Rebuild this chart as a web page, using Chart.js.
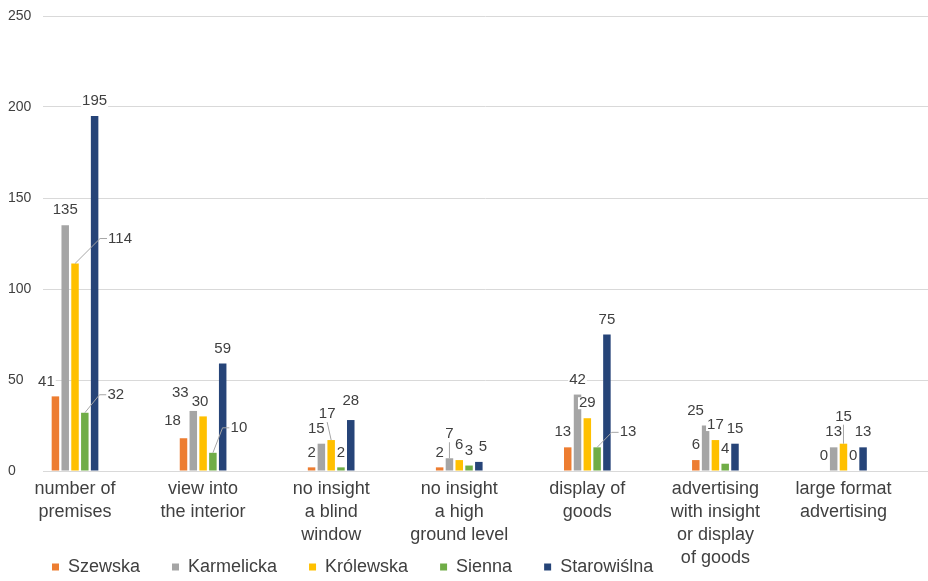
<!DOCTYPE html>
<html><head><meta charset="utf-8">
<script src="https://cdn.jsdelivr.net/npm/chart.js@4.4.1/dist/chart.umd.min.js"></script>
<style>html,body{margin:0;padding:0;background:#fff;} #wrap{width:928px;height:581px;position:relative;}</style>
</head><body><div id="wrap"><canvas id="c"></canvas></div>
<script>
// ---- data ----
const categories = [
  ["number of", "premises"],
  ["view into", "the interior"],
  ["no insight", "a blind", "window"],
  ["no insight", "a high", "ground level"],
  ["display of", "goods"],
  ["advertising", "with insight", "or display", "of goods"],
  ["large format", "advertising"]
];
const seriesNames = ["Szewska", "Karmelicka", "Królewska", "Sienna", "Starowiślna"];
const szewska     = [41, 18, 2, 2, 13, 6, 0];
const karmelicka  = [135, 33, 15, 7, 42, 25, 13];
const krolewska   = [114, 30, 17, 6, 29, 17, 15];
const sienna      = [32, 10, 2, 3, 13, 4, 0];
const starowislna = [195, 59, 28, 5, 75, 15, 13];
const yTicks = [0, 50, 100, 150, 200, 250];

// ---- styling ----
const colors = ["#ED7D31", "#A5A5A5", "#FFC000", "#70AD47", "#264478"];
const FONT = "'Liberation Sans', Arial, sans-serif";
const TEXT = "#404040";
// label nudges (series-category): [dx, dy, leader]
const labelNudges = {
  "0-0": [-9, 0], "2-0": [45, -10, "side"], "3-0": [31, -3, "side"],
  "0-1": [-11, -2], "1-1": [-13, -3], "2-1": [-3, 0], "3-1": [26, -10, "side"],
  "1-2": [-5, 0], "2-2": [-4, -11, "up"], "4-2": [0, -4],
  "1-3": [0, -9, "up"], "4-3": [4, 0],
  "0-4": [-5, 0], "3-4": [31, 0, "side"],
  "1-5": [-10, 0],
  "2-6": [0, -12, "up"]
};

const seriesValues = [szewska, karmelicka, krolewska, sienna, starowislna];
const datasets = seriesNames.map((name, s) => ({
  label: name,
  data: seriesValues[s].map((v, i) => ({ x: i, y: v })),
  backgroundColor: colors[s],
  borderWidth: 0,
  categoryPercentage: 0.3825,
  barPercentage: 0.765
}));

const valueLabels = {
  id: "valueLabels",
  afterDatasetsDraw(chart) {
    const ctx = chart.ctx;
    ctx.save();
    ctx.font = "15px " + FONT;
    ctx.textAlign = "center";
    ctx.textBaseline = "middle";
    chart.data.datasets.forEach((ds, s) => {
      const meta = chart.getDatasetMeta(s);
      meta.data.forEach((bar, i) => {
        const txt = String(ds.data[i].y);
        const n = labelNudges[s + "-" + i] || [0, 0];
        const tx = bar.x + n[0], ty = bar.y - 15 + n[1];
        const w = ctx.measureText(txt).width;
        if (n[2]) {
          ctx.strokeStyle = "#A6A6A6";
          ctx.lineWidth = 1;
          ctx.beginPath();
          ctx.moveTo(bar.x, bar.y);
          if (n[2] === "side") {
            ctx.lineTo(tx - w / 2 - 8, ty);
            ctx.lineTo(tx - w / 2 - 1, ty);
          } else {
            ctx.lineTo(tx, ty + 8);
          }
          ctx.stroke();
        }
        ctx.fillStyle = "#fff";
        ctx.fillRect(tx - w / 2 - 1, ty - 6, w + 2, 12);
        ctx.fillStyle = TEXT;
        ctx.fillText(txt, tx, ty);
      });
    });
    ctx.restore();
  }
};

// legend overlaps the lower category-label rows, as in the original
const layoutTweak = {
  id: "layoutTweak",
  afterLayout(chart) {
    const l = chart.legend;
    if (l) { l.left += 12; l.right += 12; l.top += 5; l.bottom += 5; }
    if (chart.scales.x) chart.scales.x.bottom = chart.height;
  }
};

new Chart(document.getElementById("c"), {
  type: "bar",
  data: { datasets },
  plugins: [valueLabels, layoutTweak],
  options: {
    responsive: true,
    maintainAspectRatio: false,
    animation: false,
    layout: { padding: { left: 8, top: 16, right: 0, bottom: 0 } },
    plugins: {
      tooltip: { enabled: false },
      legend: {
        position: "bottom",
        align: "start",
        labels: {
          boxWidth: 7, boxHeight: 7, padding: 32,
          color: TEXT,
          font: { family: FONT, size: 18 }
        }
      }
    },
    scales: {
      x: {
        type: "linear",
        offset: false,
        min: -0.25,
        max: 6.66,
        afterBuildTicks: s => { s.ticks = categories.map((c, i) => ({ value: i })); },
        afterFit: s => { s.height = 50; },
        grid: { display: false, drawTicks: false },
        border: { display: true, color: "#D9D9D9" },
        ticks: {
          autoSkip: false, maxRotation: 0, includeBounds: false, padding: 7,
          color: TEXT,
          font: { family: FONT, size: 18, lineHeight: 1.27 },
          callback: (v) => categories[v]
        }
      },
      y: {
        min: 0, max: 250,
        afterBuildTicks: s => { s.ticks = yTicks.map(v => ({ value: v })); },
        afterFit: s => { s.width = 35; },
        grid: { color: "#D9D9D9", drawTicks: false },
        border: { display: false },
        ticks: {
          crossAlign: "far", padding: 4,
          color: TEXT,
          font: { family: FONT, size: 14 }
        }
      }
    }
  }
});
</script>
</body></html>
